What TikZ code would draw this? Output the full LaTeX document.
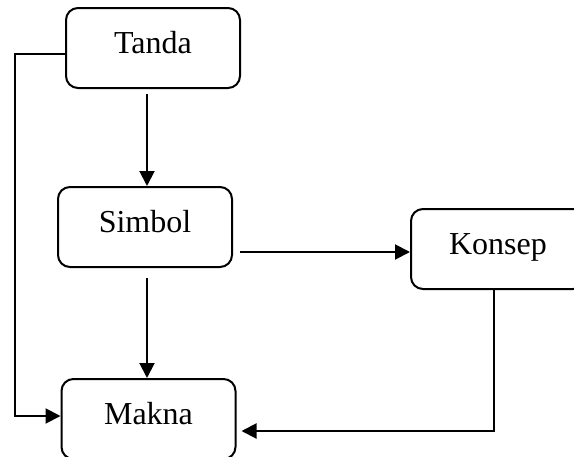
\documentclass[tikz,border=0pt]{standalone}
\usepackage{fontspec}
\setmainfont{Liberation Serif}
\usetikzlibrary{arrows.meta}
\begin{document}
\begin{tikzpicture}[x=1pt,y=-1pt,
  box/.style={draw,rounded corners=12pt,line width=2pt,minimum width=174pt,inner sep=0pt,
    text height=45pt,text depth=35pt,font=\fontsize{32}{38}\selectfont},
  arr/.style={-{Triangle[length=15pt,width=15pt]},line width=2pt}]
\useasboundingbox (0,0) rectangle (574,456);
\clip (0,0) rectangle (574,456);
\node[box] (tanda) at (153,48) {Tanda};
\node[box] (simbol) at (145,227) {Simbol};
\node[box] (konsep) at (498,249) {Konsep};
\node[box] (makna) at (148.5,419) {Makna};
\coordinate (lft) at (15,416);
\draw [arr] ([xshift=-6pt,yshift=-5pt]tanda.south) -- ([xshift=-6pt]tanda.south |- simbol.north);
\draw [arr] ([xshift=2pt,yshift=-10pt]simbol.south) -- ([xshift=2pt]simbol.south |- makna.north);
\draw [arr] ([xshift=7pt,yshift=-3pt]simbol.east |- konsep.west) -- ([yshift=-3pt]konsep.west);
\draw [arr] ([yshift=-6pt]tanda.west) -| (lft) -- (lft -| makna.west);
\draw [arr] ([xshift=-4pt]konsep.south) |- ([xshift=5pt,yshift=-12pt]makna.east);
\end{tikzpicture}
\end{document}
